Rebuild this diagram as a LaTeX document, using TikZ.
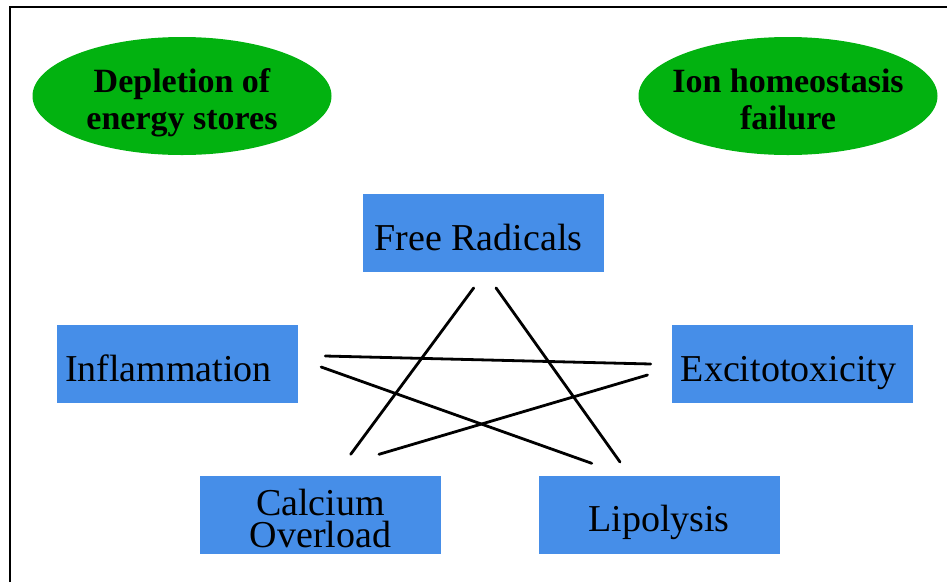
\documentclass[tikz,border=0pt]{standalone}
\usepackage{fontspec}
\setmainfont{Liberation Serif}
\usetikzlibrary{shapes.geometric}

\definecolor{ovalgreen}{RGB}{2,178,16}
\definecolor{boxblue}{RGB}{70,142,232}

\begin{document}
\begin{tikzpicture}[
  x=1pt, y=-1pt,
  cause/.style={ellipse, fill=ovalgreen, minimum width=299pt, minimum height=118pt,
    inner xsep=-30pt, inner ysep=0pt, align=center, text height=66pt, text depth=0pt,
    font=\fontsize{34}{37}\selectfont\bfseries},
  factor/.style={rectangle, fill=boxblue, minimum width=241pt, minimum height=78pt,
    inner sep=0pt, text height=40pt, text depth=6pt,
    font=\fontsize{38}{32}\selectfont},
  leftpad/.style={execute at end node={\hspace*{#1}}},
  link/.style={line width=2.8pt, line cap=round},
  frame/.style={line width=2pt},
]
\useasboundingbox (0,0) rectangle (947,582);

% --- Frame (top and left edges) ---
\draw[frame] (10,582) -- (10,7) -- (947,7);

% --- Upstream causes ---
\node[cause] (depl) at (182,96) {Depletion of\\energy stores};
\node[cause] (ion)  at (788,96) {Ion homeostasis\\failure};

% --- Injury factors ---
\node[factor, leftpad=10pt] (free) at (483.5,233) {Free Radicals};
\node[factor, leftpad=18pt] (infl) at (177.5,364) {Inflammation};
\node[factor, leftpad=8pt]  (exci) at (792.5,364) {Excitotoxicity};
\node[factor, align=center, text height=65pt, text depth=0pt] (calc) at (320.5,514.5) {Calcium\\Overload};
\node[factor] (lipo) at (659,514.5) {Lipolysis};

% Free ends of the star lines
\coordinate (free-l) at ([shift={(-9.8,15.7)}]free.south);
\coordinate (free-r) at ([shift={(12.5,15.7)}]free.south);
\coordinate (calc-l) at ([shift={(30.2,-21)}]calc.north);
\coordinate (calc-r) at ([shift={(58.5,-21)}]calc.north);
\coordinate (lipo-l) at ([shift={(-67.3,-12)}]lipo.north);
\coordinate (lipo-r) at ([shift={(-39,-13.3)}]lipo.north);
\coordinate (infl-t) at ([shift={(27,-8)}]infl.east);
\coordinate (infl-b) at ([shift={(23,3)}]infl.east);
\coordinate (exci-t) at ([shift={(-21,0)}]exci.west);
\coordinate (exci-b) at ([shift={(-24.3,11)}]exci.west);

% --- Star of interactions ---
\draw[link] (free-l) -- (calc-l);
\draw[link] (free-r) -- (lipo-r);
\draw[link] (infl-t) -- (exci-t);
\draw[link] (infl-b) -- (lipo-l);
\draw[link] (calc-r) -- (exci-b);

\end{tikzpicture}
\end{document}
